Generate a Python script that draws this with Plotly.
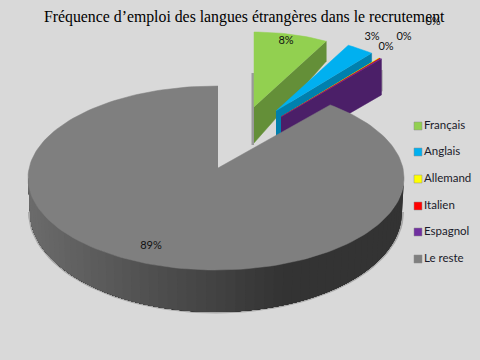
import math
import plotly.graph_objects as go

categories = ["Français", "Anglais", "Allemand", "Italien", "Espagnol", "Le reste"]
values = [8.0, 3.0, 0.1, 0.1, 0.2, 88.6]
top_colors = ["#92D050", "#00B0F0", "#FFFF00", "#FF0000", "#7030A0", "#7F7F7F"]
wall_colors = ["#648F38", "#0080AE", "#C0C000", "#C00000", "#4B1F68", "#4A4A4A"]
title_text = "Fréquence d’emploi des langues étrangères dans le recrutement"

BG = "#D9D9D9"
CX, CY, RX, RY = 216, 178, 188, 92
BCX, BCY, BRX, BRY = 216, 212, 186, 100
APEX = (218, 168)
EXPLODED = {0: ((254, 107), 150, 75, 36), 1: ((276, 111), 150, 75, 36),
            2: ((281, 117), 153, 77, 36), 3: ((281, 117), 153, 77, 36),
            4: ((281, 117), 153, 77, 36)}
LABEL_POS = [(286, 41), (372, 37), (404, 37), (433, 22), (386, 47), (151, 246)]
LEGEND_Y = [126, 152, 179, 206, 232, 259]

total = sum(values)
angles = [0.0]
for v in values:
    angles.append(angles[-1] + v / total * 2 * math.pi)


def ray_hit(theta):
    dx, dy = RX * math.sin(theta), -RY * math.cos(theta)
    ax, ay = APEX[0] - CX, APEX[1] - CY
    a = (dx / RX) ** 2 + (dy / RY) ** 2
    b = 2 * (ax * dx / RX ** 2 + ay * dy / RY ** 2)
    c = (ax / RX) ** 2 + (ay / RY) ** 2 - 1
    t = (-b + math.sqrt(b * b - 4 * a * c)) / (2 * a)
    return APEX[0] + t * dx, APEX[1] + t * dy


fig = go.Figure()


def poly(xs, ys, color, width=0.5):
    fig.add_trace(go.Scatter(x=xs, y=ys, mode="lines", fill="toself", fillcolor=color,
                             line=dict(color=color, width=width), hoverinfo="skip",
                             showlegend=False))


# soft shadows
poly([BCX + (BRX + 2) * math.cos(i / 60 * math.pi) for i in range(61)],
     [BCY + (BRY + 1.5) * math.sin(i / 60 * math.pi) for i in range(61)], "#A8A8A8", 0)
poly([251.5, 254, 254, 251.5], [73, 73, 145, 145], "#9A9A9A", 0)
poly([381, 383, 383, 381], [70, 70, 91, 92], "#B5B5B5", 0)

# exploded slices, drawn from the values
for i in range(5):
    (ax, ay), rx, ry, depth = EXPLODED[i]
    t0, t1 = angles[i], angles[i + 1]
    n = max(2, int((t1 - t0) * 40))
    arc = [t0 + (t1 - t0) * k / n for k in range(n + 1)]
    ex, ey = ax + rx * math.sin(t1), ay - ry * math.cos(t1)
    far = 20 if i == 0 else depth
    poly([ax, ex, ex, ax], [ay, ey, ey + far, ay + depth], wall_colors[i])
    poly([ax] + [ax + rx * math.sin(t) for t in arc],
         [ay] + [ay - ry * math.cos(t) for t in arc], top_colors[i], 0.5)

# side wall of the remaining slice, as a horizontal gradient:
# each band runs from its own left edge all the way to the far left, so no seams show
N = 60
for k in range(N):
    p0 = math.pi * k / N
    arc = [p0 + (math.pi - p0) * j / 40 for j in range(41)]
    xs = [CX + RX * math.cos(p) for p in arc] + [BCX + BRX * math.cos(p) for p in reversed(arc)]
    ys = [CY + RY * math.sin(p) for p in arc] + [BCY + BRY * math.sin(p) for p in reversed(arc)]
    u = 1 - (math.cos(p0) + 1) / 2          # 0 on the right, 1 on the left
    g = int(0x33 + max(0.0, u - 0.3) / 0.7 * (0x6C - 0x33))
    poly(xs, ys, f"#{g:02X}{g:02X}{g:02X}", 0)

# top of the remaining slice
t0, t1 = angles[5], angles[6]
arc = [t0 + (t1 - t0) * k / 180 for k in range(181)]
pts = [ray_hit(t) for t in arc]
poly([APEX[0]] + [p[0] for p in pts], [APEX[1]] + [p[1] for p in pts], top_colors[5], 0.5)

# percentage labels
fig.add_trace(go.Scatter(
    x=[p[0] for p in LABEL_POS], y=[p[1] for p in LABEL_POS], mode="text",
    text=[f"{round(v)}%" for v in values], textposition="middle center",
    textfont=dict(family="Lato", size=11, color="#111111"),
    hoverinfo="skip", showlegend=False, cliponaxis=False))

# legend keys and names
fig.add_trace(go.Scatter(
    x=[418] * len(categories), y=LEGEND_Y, mode="markers+text", text=categories,
    textposition="middle right",
    marker=dict(symbol="square", size=8, color=top_colors, line=dict(color="#8C8C8C", width=0.5)),
    textfont=dict(family="Lato", size=11.5, color="#1A1A2A"),
    hoverinfo="skip", showlegend=False, cliponaxis=False))

fig.update_layout(
    width=480, height=360, margin=dict(l=0, r=0, t=0, b=0),
    paper_bgcolor=BG, plot_bgcolor=BG, showlegend=False,
    xaxis=dict(range=[0, 480], visible=False, fixedrange=True),
    yaxis=dict(range=[360, 0], visible=False, fixedrange=True),
    annotations=[dict(x=244, y=17, xref="x", yref="y", text=title_text, showarrow=False,
                      font=dict(family="Liberation Serif", size=15.8, color="#000000"))],
)
fig.write_html("out.html", config={"displayModeBar": False},
               post_script="document.documentElement.style.margin='0';document.body.style.margin='0';"
                           "document.documentElement.style.overflow='hidden';")
